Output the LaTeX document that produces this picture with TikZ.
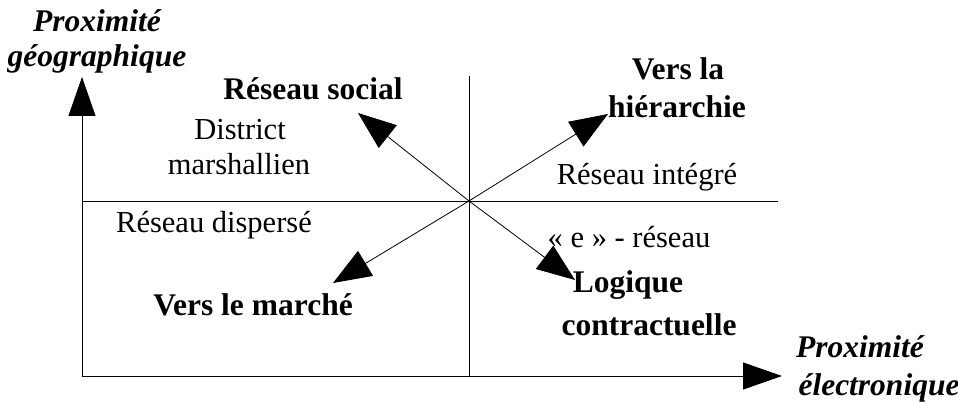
\documentclass[tikz,border=0pt]{standalone}
\usepackage{fontspec}
\setmainfont{Liberation Serif}
\usetikzlibrary{arrows.meta}
\tikzset{
  lbl/.style={anchor=base, inner sep=0pt, font=\fontsize{30.5}{36}\selectfont},
  lblb/.style={lbl, font=\fontsize{31.5}{36}\selectfont\bfseries},
  lblbi/.style={lbl, font=\fontsize{31.5}{36}\selectfont\bfseries\itshape},
  axis/.style={line width=1pt, -{Triangle[length=39pt,width=27pt]}},
  diag/.style={line width=0.8pt, -{Triangle[length=38pt,width=29pt]}},
  divider/.style={line width=0.8pt}
}
\begin{document}
\begin{tikzpicture}[x=1pt,y=-1pt]
\useasboundingbox (0,0) rectangle (958,403);
% key points
\coordinate (o) at (82,376);
\coordinate (ytip) at (82,77);
\coordinate (xtip) at (782,376);
\coordinate (c) at (469,201);
\coordinate (hl) at (82,201);
\coordinate (hr) at (778,201);
\coordinate (vt) at (469,76);
\coordinate (vb) at (469,376);
\coordinate (nw) at (358,113);
\coordinate (ne) at (608,114);
\coordinate (sw) at (333,283);
\coordinate (se) at (575,280);
% axes
\draw[axis] (o) -- (ytip);
\draw[axis] (o) -- (xtip);
% dividers
\draw[divider] (hl) -- (hr);
\draw[divider] (vt) -- (vb);
% diagonal arrows
\draw[diag] (c) -- (nw);
\draw[diag] (c) -- (ne);
\draw[diag] (c) -- (sw);
\draw[diag] (c) -- (se);
% labels
\node[lblbi] (py1) at (97,32) {Proximité};
\node[lblbi] (py2) at (97,67) {géographique};
\node[lblb] (rs) at (313,100) {Réseau social};
\node[lbl] (dm1) at (240,140) {District};
\node[lbl] (dm2) at (239,175) {marshallien};
\node[lblb] (vh1) at (678,80) {Vers la};
\node[lblb] (vh2) at (677,118) {hiérarchie};
\node[lbl] (ri) at (647,185) {Réseau intégré};
\node[lbl] (rd) at (214,233) {Réseau dispersé};
\node[lblb] (vm) at (253,316) {Vers le marché};
\node[lbl] (er) at (629,248) {« e » - réseau};
\node[lblb] (lc1) at (628,292) {Logique};
\node[lblb] (lc2) at (649,335) {contractuelle};
\node[lblbi] (px1) at (860,357) {Proximité};
\node[lblbi] (px2) at (879,395) {électronique};
\end{tikzpicture}
\end{document}
